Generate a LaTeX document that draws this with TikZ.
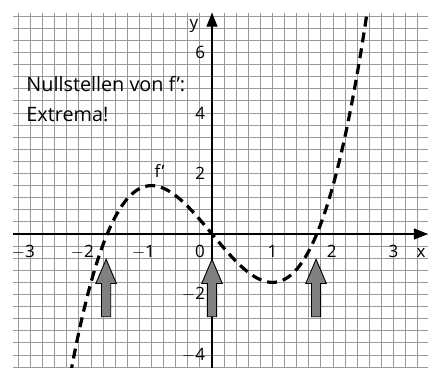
\documentclass[tikz,border=0pt]{standalone}
\usepackage{fontspec}
\setmainfont{Open Sans}
\usetikzlibrary{arrows.meta}
\tikzset{
  gridline/.style={draw=black!40, line width=1pt},
  axisline/.style={draw=black, line width=1.2pt, -{Triangle[length=14pt,width=11pt]}},
  curveline/.style={draw=black, line width=3.2pt, dash pattern=on 10pt off 6pt},
  blockarrow/.style={fill=black!50, draw=black, line width=0.9pt, line join=miter},
  ticklbl/.style={inner sep=0pt, font=\fontsize{17}{20}\selectfont},
  txt/.style={inner sep=0pt, font=\fontsize{19.8}{23}\selectfont},
}
\begin{document}
\begin{tikzpicture}[x=60.5pt,y=30.25pt]
\useasboundingbox (-212pt,-133pt) rectangle (216pt,234pt);
% grid
\foreach \k in {-16,...,17} \draw[gridline] (\k*0.2,-4.45) -- (\k*0.2,7.316);
\foreach \k in {-11,...,18} \draw[gridline] (-3.294,\k*0.4) -- (3.6,\k*0.4);
% axes
\coordinate (xs) at (-3.294,0);
\coordinate (xe) at (3.57,0);
\coordinate (ys) at (0,-4.45);
\coordinate (ye) at (0,7.316);
\draw[axisline] (xs) -- (xe);
\draw[axisline] (ys) -- (ye);
% tick labels
\node[ticklbl, anchor=base east] (lm3) at (-3+0.075,-0.77) {$-$3};
\node[ticklbl, anchor=base east] (lm2) at (-2+0.05,-0.77) {$-$2};
\node[ticklbl, anchor=base east] (lm1) at (-1+0.06,-0.77) {$-$1};
\node[ticklbl, anchor=base] (l0) at (-0.2,-0.77) {0};
\node[ticklbl, anchor=base] (l1) at (1,-0.77) {1};
\node[ticklbl, anchor=base] (l2) at (1.98,-0.77) {2};
\node[ticklbl, anchor=base] (l3) at (3,-0.77) {3};
\node[ticklbl, anchor=east] (ly6) at (-0.11,6) {6};
\node[ticklbl, anchor=east] (ly4) at (-0.11,4) {4};
\node[ticklbl, anchor=east] (ly2) at (-0.11,2) {2};
\node[ticklbl, anchor=east] (lym2) at (-0.11,-2) {$-$2};
\node[ticklbl, anchor=east] (lym4) at (-0.11,-4) {$-$4};
\node[ticklbl, anchor=base] (xl) at (3.455,-0.77) {x};
\node[ticklbl, anchor=base] (yl) at (-0.297,6.78) {y};
% curve
\draw[curveline] plot[domain=-2.34:2.565, samples=120, smooth] (\x,{0.8*\x*\x*\x-2.4*\x});
% block arrows
\foreach \cx in {-1.75,0,1.72} {
  \draw[blockarrow] (\cx,-0.836) -- (\cx+0.170,-1.636) -- (\cx+0.076,-1.636)
    -- (\cx+0.076,-2.734) -- (\cx-0.076,-2.734) -- (\cx-0.076,-1.636)
    -- (\cx-0.170,-1.636) -- cycle;
}
% texts
\node[txt, anchor=base west] (t1) at (-3.07,4.70) {Nullstellen von f’:};
\node[txt, anchor=base west] (t2) at (-3.07,3.71) {Extrema!};
\node[ticklbl, anchor=base west] (fl) at (-0.95,1.88) {f’};
\end{tikzpicture}
\end{document}
